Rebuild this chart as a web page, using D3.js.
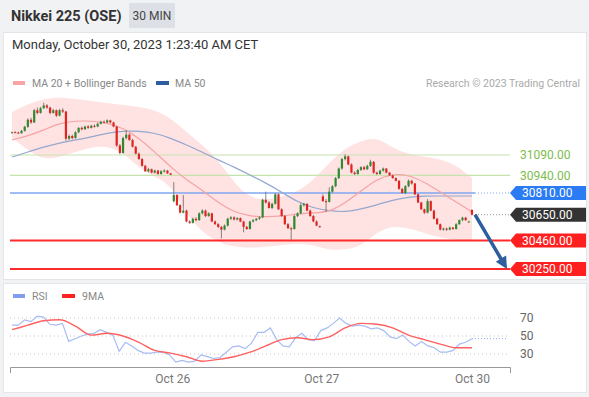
<!DOCTYPE html>
<html>
<head>
<meta charset="utf-8">
<script src="https://cdn.jsdelivr.net/npm/d3@7"></script>
<style>
  body { margin: 0; background: #f1f2f4; font-family: Roboto, "Liberation Sans", Arial, sans-serif; }
</style>
</head>
<body>
<script>
// 30 min candles, Nikkei 225 (OSE)
var opens  = [31255,31258,31255,31250,31268,31298,31350,31330,31420,31400,31435,31455,31440,31400,31420,31380,31420,31410,31210,31230,
              31215,31258,31290,31280,31300,31290,31305,31300,31320,31335,31330,31345,31330,31300,31160,31105,31215,31240,31200,31150,
              31100,31060,31010,30970,30985,30960,30975,30950,30970,30975,30955,30750,30795,30720,30665,30680,30600,30590,30620,30610,
              30660,30680,30640,30660,30600,30580,30560,30540,30570,30620,30630,30615,30625,30600,30560,30545,30600,30610,30620,30630,
              30760,30740,30700,30730,30800,30690,30640,30580,30550,30545,30640,30660,30720,30730,30680,30640,30600,30565,30785,30750,
              30745,30820,30860,30920,30990,31060,31080,31020,30960,30950,30980,31000,30985,31010,31040,30960,30950,30975,30990,30960,
              30940,30920,30900,30840,30810,30860,30900,30880,30800,30740,30690,30665,30750,30680,30620,30580,30540,30548,30540,30555,
              30545,30580,30610,30628,30600,30685];
var highs  = [31262,31265,31262,31275,31305,31360,31365,31430,31440,31445,31475,31465,31445,31430,31425,31430,31435,31415,31240,31240,
              31265,31295,31300,31305,31310,31312,31315,31328,31342,31345,31352,31350,31335,31305,31170,31225,31275,31250,31210,31158,
              31108,31068,31018,30995,30990,30982,30980,30978,30985,30980,30958,30890,30800,30728,30795,30688,30610,30628,30632,30668,
              30690,30688,30668,30665,30608,30588,30568,30578,30628,30640,30638,30632,30630,30605,30568,30605,30618,30626,30638,30768,
              30820,30750,30738,30810,30805,30698,30648,30588,30560,30648,30668,30735,30738,30735,30688,30648,30608,30570,30800,30765,
              30852,30868,30928,30998,31068,31095,31085,31028,30970,30988,31008,31010,31018,31055,31045,30968,30982,30998,30995,30965,
              30945,30925,30905,30848,30868,30910,30908,30885,30808,30745,30695,30765,30755,30688,30628,30585,30555,30555,30562,30560,
              30588,30615,30635,30635,30605,30690];
var lows   = [31250,31252,31245,31248,31262,31290,31320,31325,31390,31395,31430,31430,31390,31395,31370,31375,31400,31195,31200,31205,
              31210,31250,31270,31275,31282,31285,31292,31295,31315,31322,31325,31322,31295,31150,31095,31100,31205,31195,31145,31095,
              31055,31005,30965,30962,30955,30955,30945,30945,30962,30950,30942,30740,30715,30660,30660,30595,30582,30585,30602,30605,
              30652,30632,30635,30595,30575,30552,30475,30535,30562,30612,30608,30608,30595,30520,30538,30540,30592,30602,30612,30625,
              30732,30695,30692,30725,30685,30635,30575,30545,30465,30540,30632,30655,30710,30675,30635,30595,30565,30555,30745,30670,
              30740,30812,30852,30912,30982,31050,31015,30955,30942,30945,30972,30978,30980,31002,30952,30942,30945,30968,30955,30935,
              30915,30895,30835,30805,30802,30852,30872,30795,30735,30685,30655,30660,30675,30615,30575,30535,30532,30530,30535,30538,
              30540,30575,30602,30605,30595,30645];
var closes = [31258,31255,31250,31268,31298,31350,31330,31420,31400,31435,31455,31440,31400,31420,31380,31420,31410,31210,31230,31215,
              31258,31290,31280,31300,31290,31305,31300,31320,31335,31330,31345,31330,31300,31160,31105,31215,31240,31200,31150,31100,
              31060,31010,30970,30985,30960,30975,30950,30970,30975,30955,30945,30795,30720,30665,30680,30600,30590,30620,30610,30660,
              30680,30640,30660,30600,30580,30560,30540,30570,30620,30630,30615,30625,30600,30560,30545,30600,30610,30620,30630,30760,
              30740,30700,30730,30800,30690,30640,30580,30550,30545,30640,30660,30720,30730,30680,30640,30600,30570,30560,30750,30745,
              30820,30860,30920,30990,31060,31080,31020,30960,30950,30980,31000,30985,31010,31040,30960,30950,30975,30990,30960,30940,
              30920,30900,30840,30810,30860,30900,30880,30800,30740,30690,30665,30750,30680,30620,30580,30540,30548,30540,30555,30545,
              30580,30610,30628,30610,30600,30650];

// indicators, one reading every 5 candles
var ma20      = [31201,31230,31274,31326,31341,31341,31326,31289,31215,31112,31002,30906,30832,30736,30670,30640,30633,30640,30655,30663,
                 30670,30736,30825,30913,30950,30943,30891,30817,30744,30670];
var ma50      = [31075,31112,31149,31178,31201,31223,31252,31267,31267,31252,31215,31164,31112,31053,31002,30943,30884,30817,30744,30699,
                 30677,30670,30692,30722,30758,30780,30788,30788,30788,30788];
var bandUpper = [31407,31466,31503,31517,31503,31488,31473,31459,31444,31422,31363,31260,31164,31053,30884,30773,30758,30780,30817,30906,
                 31031,31142,31193,31223,31142,31097,31075,31061,31016,30920];
var bandLower = [31215,31127,31053,31075,31112,31149,31156,31112,30994,30928,30876,30648,30522,30449,30412,30405,30412,30427,30441,30427,
                 30390,30390,30419,30522,30567,30552,30515,30478,30464,30464];

// RSI every 2 candles, its 9MA every 5 candles
var rsi   = [62,62,68,66,72,71,63,62,64,44,47,50,52,53,57,54,51,33,43,39,34,31,31,32,32,29,21,23,21,22,29,27,25,26,32,38,39,36,42,54,
             54,59,46,39,38,48,53,46,45,56,59,64,70,64,61,62,61,58,59,56,49,47,51,44,39,44,39,37,32,32,34,41,43,47];
var rsiMa = [57,62,67,68,61,51,53,50,43,34,31,27,22,24,27,32,39,46,48,46,49,59,64,63,59,51,46,41,37,37];
var rsiLevels = [70, 50, 30];

var levels = [31090, 30940, 30810, 30650, 30460, 30250];
var levelKinds = ['res', 'res', 'pivot', 'last', 'sup', 'sup'];

var tickSlots = [50.5, 97.5, 145];
var tickLabels = ['Oct 26', 'Oct 27', 'Oct 30'];

var W = 589, H = 397;
var svg = d3.select('body').append('svg').attr('width', W).attr('height', H)
  .style('font-family', 'Roboto, "Liberation Sans", Arial, sans-serif');

svg.append('rect').attr('width', W).attr('height', H).attr('fill', '#f1f2f4');
svg.append('rect').attr('x', 3.5).attr('y', 32.5).attr('width', 583).attr('height', 247)
  .attr('fill', '#fff').attr('stroke', '#e3e5e9');
svg.append('rect').attr('x', 3.5).attr('y', 283.5).attr('width', 583).attr('height', 109)
  .attr('fill', '#fff').attr('stroke', '#e3e5e9');

// header
svg.append('text').attr('x', 11).attr('y', 21).text('Nikkei 225 (OSE)')
  .attr('font-size', '14.5px').attr('font-weight', 'bold').attr('fill', '#333');
svg.append('rect').attr('x', 129).attr('y', 3).attr('width', 46).attr('height', 25).attr('fill', '#dde1e7');
svg.append('text').attr('x', 152).attr('y', 20).text('30 MIN').attr('text-anchor', 'middle')
  .attr('font-size', '12px').attr('fill', '#444');
svg.append('text').attr('x', 12).attr('y', 49).text('Monday, October 30, 2023 1:23:40 AM CET')
  .attr('font-size', '13px').attr('fill', '#333');

// legend
svg.append('rect').attr('x', 13).attr('y', 81).attr('width', 12).attr('height', 4).attr('fill', '#f7a5a5');
svg.append('text').attr('x', 32).attr('y', 87).text('MA 20 + Bollinger Bands').attr('font-size', '10.5px').attr('fill', '#888');
svg.append('rect').attr('x', 156).attr('y', 81).attr('width', 13).attr('height', 4).attr('fill', '#2f5d9f');
svg.append('text').attr('x', 175).attr('y', 87).text('MA 50').attr('font-size', '10.5px').attr('fill', '#888');
svg.append('text').attr('x', 580).attr('y', 87).text('Research \u00a9 2023 Trading Central')
  .attr('text-anchor', 'end').attr('font-size', '10.5px').attr('fill', '#aaa');

// scales
var x = d3.scaleLinear().domain([0, closes.length - 1]).range([12, 472]);
var y = d3.scaleLinear().domain([30250, 31090]).range([269, 155]);
var maX = x.copy().domain([0, ma20.length - 1]);
var lineLeft = 10, lineRight = 510;

var chart = svg.append('g');

// bollinger band
chart.append('path')
  .datum(bandUpper)
  .attr('d', d3.area().x((d, i) => maX(i)).y0((d, i) => y(bandLower[i])).y1(d => y(d)).curve(d3.curveBasis))
  .attr('fill', '#ffe2e2');

// level lines
var lastX = x(closes.length - 1) + 3;
levels.forEach(function (v, i) {
  var k = levelKinds[i];
  if (k === 'res') {
    chart.append('line').attr('x1', lineLeft).attr('x2', lineRight).attr('y1', y(v)).attr('y2', y(v))
      .attr('stroke', '#c5e3ad').attr('stroke-width', 1.2);
  } else if (k === 'sup') {
    chart.append('line').attr('x1', lineLeft).attr('x2', lineRight).attr('y1', y(v)).attr('y2', y(v))
      .attr('stroke', '#ff2b2b').attr('stroke-width', 2);
  } else if (k === 'pivot') {
    chart.append('line').attr('x1', lineLeft).attr('x2', lastX).attr('y1', y(v)).attr('y2', y(v))
      .attr('stroke', '#7fa6f2').attr('stroke-width', 1.5);
    chart.append('line').attr('x1', lastX).attr('x2', lineRight).attr('y1', y(v)).attr('y2', y(v))
      .attr('stroke', '#7fa6f2').attr('stroke-dasharray', '1,2');
  } else {
    chart.append('line').attr('x1', lastX).attr('x2', lineRight).attr('y1', y(v)).attr('y2', y(v))
      .attr('stroke', '#999').attr('stroke-dasharray', '1,2');
  }
});

// moving averages
chart.append('path').datum(ma50)
  .attr('d', d3.line().x((d, i) => maX(i)).y(d => y(d)).curve(d3.curveBasis))
  .attr('fill', 'none').attr('stroke', '#94a8cf').attr('stroke-width', 1.2);
chart.append('path').datum(ma20)
  .attr('d', d3.line().x((d, i) => maX(i)).y(d => y(d)).curve(d3.curveBasis))
  .attr('fill', 'none').attr('stroke', '#f5a3a3').attr('stroke-width', 1.2);

// candles
var candles = chart.append('g').selectAll('g')
  .data(closes.map((c, i) => ({ i: i, o: opens[i], h: highs[i], l: lows[i], c: c })))
  .enter().append('g');
candles.append('line')
  .attr('x1', d => x(d.i)).attr('x2', d => x(d.i))
  .attr('y1', d => y(d.h)).attr('y2', d => y(d.l))
  .attr('stroke', '#666').attr('stroke-width', 0.8);
candles.append('rect')
  .attr('x', d => x(d.i) - 1.1).attr('width', 2.2)
  .attr('y', d => y(Math.max(d.o, d.c)))
  .attr('height', d => Math.max(1, Math.abs(y(d.o) - y(d.c))))
  .attr('fill', d => d.c >= d.o ? '#2f8a2f' : '#e3231f');

// forecast arrow
var a0 = [lastX, y(closes[closes.length - 1])];
var a1 = [lineRight - 3, y(levels[5])];
var ang = Math.atan2(a1[1] - a0[1], a1[0] - a0[0]);
chart.append('line')
  .attr('x1', a0[0]).attr('y1', a0[1])
  .attr('x2', a1[0] - 9 * Math.cos(ang)).attr('y2', a1[1] - 9 * Math.sin(ang))
  .attr('stroke', '#2d5e9e').attr('stroke-width', 3.5);
chart.append('path')
  .attr('d', d3.line()([
    a1,
    [a1[0] - 12 * Math.cos(ang) + 6 * Math.sin(ang), a1[1] - 12 * Math.sin(ang) - 6 * Math.cos(ang)],
    [a1[0] - 12 * Math.cos(ang) - 6 * Math.sin(ang), a1[1] - 12 * Math.sin(ang) + 6 * Math.cos(ang)]
  ]) + 'Z')
  .attr('fill', '#2d5e9e');

// level labels
var labelFill = { pivot: '#2b7bf3', last: '#333333', sup: '#ff1f1f' };
levels.forEach(function (v, i) {
  var k = levelKinds[i], cy = y(v);
  if (k === 'res') {
    chart.append('text').attr('x', 520).attr('y', cy).attr('dy', '0.35em').text(v.toFixed(2))
      .attr('font-size', '12px').attr('fill', '#7dbd4c');
  } else {
    chart.append('path')
      .attr('d', 'M' + lineRight + ',' + cy + 'L' + (lineRight + 6) + ',' + (cy - 7) + 'H586V' + (cy + 7) + 'H' + (lineRight + 6) + 'Z')
      .attr('fill', labelFill[k]);
    chart.append('text').attr('x', 522).attr('y', cy).attr('dy', '0.35em').text(v.toFixed(2))
      .attr('font-size', '12px').attr('fill', '#fff');
  }
});

// RSI panel
var rsiX = x.copy().domain([0, rsi.length - 1]);
var rsiMaX = x.copy().domain([0, rsiMa.length - 1]);
var ry = d3.scaleLinear().domain([30, 70]).range([354, 318]);
var rsiG = svg.append('g');

rsiG.append('rect').attr('x', 13).attr('y', 294).attr('width', 12).attr('height', 4).attr('fill', '#7f9fee');
rsiG.append('text').attr('x', 32).attr('y', 300).text('RSI').attr('font-size', '10.5px').attr('fill', '#888');
rsiG.append('rect').attr('x', 62).attr('y', 294).attr('width', 13).attr('height', 4).attr('fill', '#ff2020');
rsiG.append('text').attr('x', 82).attr('y', 300).text('9MA').attr('font-size', '10.5px').attr('fill', '#888');

rsiG.selectAll('.grid').data(rsiLevels).enter().append('line')
  .attr('x1', lineLeft).attr('x2', 508).attr('y1', d => ry(d)).attr('y2', d => ry(d))
  .attr('stroke', '#c4c4c4').attr('stroke-dasharray', '1,3');
rsiG.selectAll('.lab').data(rsiLevels).enter().append('text')
  .attr('x', 520).attr('y', d => ry(d)).attr('dy', '0.35em').text(d => d)
  .attr('font-size', '12px').attr('fill', '#666');

rsiG.append('line')
  .attr('x1', rsiX(rsi.length - 1)).attr('x2', 508)
  .attr('y1', ry(rsi[rsi.length - 1])).attr('y2', ry(rsi[rsi.length - 1]))
  .attr('stroke', '#8fa9ef').attr('stroke-dasharray', '1,2');
rsiG.append('path').datum(rsi)
  .attr('d', d3.line().x((d, i) => rsiX(i)).y(d => ry(d)))
  .attr('fill', 'none').attr('stroke', '#a7bcf2').attr('stroke-width', 1.2);
rsiG.append('path').datum(rsiMa)
  .attr('d', d3.line().x((d, i) => rsiMaX(i)).y(d => ry(d)).curve(d3.curveMonotoneX))
  .attr('fill', 'none').attr('stroke', '#ff6161').attr('stroke-width', 1.4);

// time axis
var xa = d3.scaleLinear().domain([x.invert(lineLeft), x.invert(lineRight)]).range([lineLeft, lineRight]);
var axis = rsiG.append('g').attr('transform', 'translate(0,367)')
  .call(d3.axisBottom(xa).tickValues(tickSlots).tickFormat((d, i) => tickLabels[i])
    .tickSizeInner(0).tickSizeOuter(6).tickPadding(7));
axis.select('.domain').attr('stroke', '#999');
axis.selectAll('text').attr('font-size', '12px').attr('fill', '#777')
  .attr('font-family', 'Roboto, "Liberation Sans", Arial, sans-serif');
</script>
</body>
</html>
